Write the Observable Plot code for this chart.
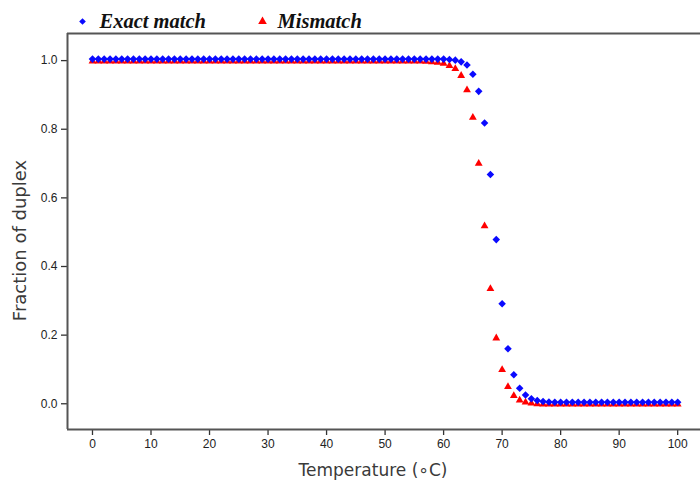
<!DOCTYPE html>
<html>
<head>
<meta charset="utf-8">
<script src="https://cdn.jsdelivr.net/npm/d3@7"></script>
<script src="https://cdn.jsdelivr.net/npm/@observablehq/plot@0.6"></script>
<style>
  html, body { margin: 0; padding: 0; background: #fff; }
  #chart svg { display: block; }
</style>
</head>
<body>
<div id="chart"></div>
<script>
const temperature = [
  0,1,2,3,4,5,6,7,8,9,10,11,12,13,14,15,16,17,18,19,
  20,21,22,23,24,25,26,27,28,29,30,31,32,33,34,35,36,37,38,39,
  40,41,42,43,44,45,46,47,48,49,50,51,52,53,54,55,56,57,58,59,
  60,61,62,63,64,65,66,67,68,69,70,71,72,73,74,75,76,77,78,79,
  80,81,82,83,84,85,86,87,88,89,90,91,92,93,94,95,96,97,98,99,100
];
const exactMatch = [
  1,1,1,1,1,1,1,1,1,1,1,1,1,1,1,1,1,1,1,1,
  1,1,1,1,1,1,1,1,1,1,1,1,1,1,1,1,1,1,1,1,
  1,1,1,1,1,1,1,1,1,1,1,1,1,1,1,1,1,1,1,1,
  1.0,0.999,0.997,0.992,0.983,0.956,0.906,0.814,0.664,0.474,
  0.287,0.156,0.080,0.041,0.021,0.010,0.005,0.002,0.001,0,
  0,0,0,0,0,0,0,0,0,0,0,0,0,0,0,0,0,0,0,0,0
];
const mismatch = [
  1,1,1,1,1,1,1,1,1,1,1,1,1,1,1,1,1,1,1,1,
  1,1,1,1,1,1,1,1,1,1,1,1,1,1,1,1,1,1,1,1,
  1,1,1,1,1,1,1,1,1,1,1,1,1,1,1,1,1,0.999,0.998,0.996,
  0.993,0.987,0.978,0.958,0.916,0.836,0.702,0.520,0.337,0.193,
  0.101,0.051,0.025,0.012,0.006,0.003,0.001,0,0,0,
  0,0,0,0,0,0,0,0,0,0,0,0,0,0,0,0,0,0,0,0,0
];
const xTicks = [0,10,20,30,40,50,60,70,80,90,100];
const yTicks = [0,0.2,0.4,0.6,0.8,1.0];
const seriesNames = ["Exact match", "Mismatch"];
const xLabel = "Temperature (\u2218C)";
const yLabel = "Fraction of duplex";

const xDomain = [-4.27, 103.9];
const yDomain = [-0.075, 1.079];

const exactData = temperature.map((t, i) => ({t, v: exactMatch[i]}));
const misData = temperature.map((t, i) => ({t, v: mismatch[i]}));

const BLUE = "#0a0aff";
const RED = "#ff0000";
const axisFont = "'Liberation Sans', Arial, sans-serif";
const labelFont = "'DejaVu Sans', Verdana, sans-serif";
const legendFont = "'Liberation Serif', 'Times New Roman', serif";

const chart = Plot.plot({
  width: 700,
  height: 485,
  marginLeft: 67,
  marginRight: 0,
  marginTop: 33,
  marginBottom: 56,
  style: {background: "#fff", overflow: "visible"},
  x: {domain: xDomain, ticks: xTicks, tickFormat: d => String(d), label: null},
  y: {domain: yDomain, ticks: yTicks, tickFormat: d3.format(".1f"), label: null},
  marks: [
    Plot.axisX({ticks: xTicks, tickFormat: d => String(d), tickSize: 6, tickPadding: 4,
      fontSize: 12, fontFamily: axisFont, fill: "#222", stroke: "#333", strokeWidth: 1.3}),
    Plot.axisY({ticks: yTicks, tickFormat: d3.format(".1f"), tickSize: 6, tickPadding: 4,
      fontSize: 12, fontFamily: axisFont, fill: "#222", stroke: "#333", strokeWidth: 1.3}),
    Plot.ruleY([yDomain[0], yDomain[1]], {stroke: "#555", strokeWidth: 2}),
    Plot.ruleX([xDomain[0]], {stroke: "#555", strokeWidth: 2}),
    Plot.dot(misData, {x: "t", y: "v", symbol: "triangle", r: 2.9, fill: RED, dy: 0.6}),
    Plot.dot(exactData, {x: "t", y: "v", symbol: "diamond2", r: 3.4, fill: BLUE, dy: -1.5}),
    // axis titles
    Plot.text([xLabel], {frameAnchor: "bottom", dx: -11, dy: 41, fontSize: 17,
      textAnchor: "middle", lineAnchor: "middle",
      fontFamily: labelFont, fill: "#3a3a3a", text: d => d}),
    Plot.text([yLabel], {frameAnchor: "left", dx: -47, dy: 9, rotate: -90, fontSize: 18,
      textAnchor: "middle", lineAnchor: "middle",
      fontFamily: labelFont, fill: "#3a3a3a", text: d => d}),
    // legend
    Plot.dot([seriesNames[0]], {frameAnchor: "top-left", dx: 15, dy: -12, symbol: "diamond2", r: 3, fill: BLUE}),
    Plot.text([seriesNames[0]], {frameAnchor: "top-left", dx: 32, dy: -12, textAnchor: "start", lineAnchor: "middle",
      fontSize: 20.5, fontWeight: "bold", fontStyle: "italic", fontFamily: legendFont, fill: "#111", text: d => d}),
    Plot.dot([seriesNames[1]], {frameAnchor: "top-left", dx: 195, dy: -12, symbol: "triangle", r: 3.2, fill: RED}),
    Plot.text([seriesNames[1]], {frameAnchor: "top-left", dx: 210, dy: -12, textAnchor: "start", lineAnchor: "middle",
      fontSize: 20.5, fontWeight: "bold", fontStyle: "italic", fontFamily: legendFont, fill: "#111", text: d => d})
  ]
});
document.getElementById("chart").appendChild(chart);
</script>
</body>
</html>
